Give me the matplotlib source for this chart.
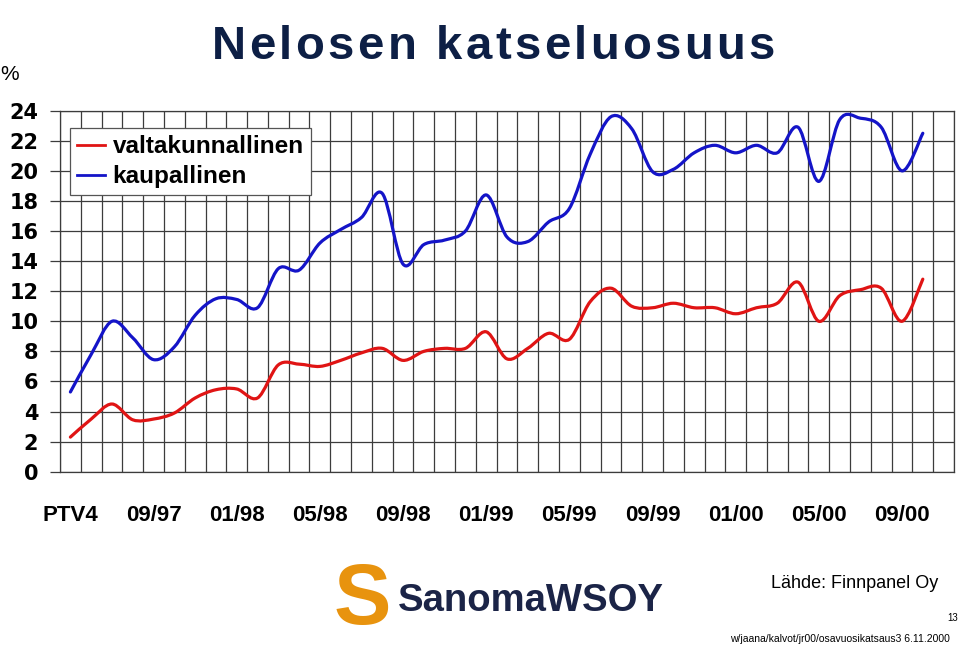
import numpy as np
import matplotlib
matplotlib.use('Agg')
from matplotlib import pyplot as pl
from matplotlib.path import Path
from matplotlib.patches import PathPatch
from matplotlib.lines import Line2D

# Monthly viewing share (%), 05/97 (PTV4) .. 10/00
valtakunnallinen = [2.3, 3.5, 4.5, 3.45, 3.5, 3.9, 4.9, 5.45, 5.5, 4.9,
                    7.1, 7.15, 7.0, 7.4, 7.9, 8.2, 7.4, 8.0, 8.2, 8.2,
                    9.3, 7.5, 8.2, 9.2, 8.8, 11.3, 12.2, 11.0, 10.9, 11.2,
                    10.9, 10.9, 10.5, 10.9, 11.2, 12.6, 10.0, 11.7, 12.1, 12.2,
                    10.0, 12.8]
kaupallinen = [5.3, 7.8, 10.0, 8.9, 7.45, 8.3, 10.4, 11.5, 11.45, 10.9,
               13.5, 13.4, 15.2, 16.1, 16.9, 18.5, 13.8, 15.1, 15.4, 16.0,
               18.4, 15.6, 15.3, 16.6, 17.5, 21.1, 23.6, 22.8, 19.95, 20.1,
               21.2, 21.7, 21.2, 21.7, 21.2, 22.9, 19.3, 23.4, 23.5, 22.9,
               20.0, 22.5]
tick_labels = ['PTV4', '09/97', '01/98', '05/98', '09/98', '01/99',
               '05/99', '09/99', '01/00', '05/00', '09/00']
series_names = ['valtakunnallinen', 'kaupallinen']
series_colors = ['#e01414', '#1414c8']
title = 'Nelosen katseluosuus'

navy = '#0d1f45'
grid_col = '#3c3c3c'


def smooth_path(x, y):
    # Excel style smoothed line: cubic bezier segments (Catmull-Rom)
    x = np.asarray(x, float)
    y = np.asarray(y, float)
    px = np.concatenate([[x[0]], x, [x[-1]]])
    py = np.concatenate([[y[0]], y, [y[-1]]])
    verts = [(x[0], y[0])]
    codes = [Path.MOVETO]
    for i in range(len(x) - 1):
        j = i + 1
        c1 = (px[j] + (px[j+1] - px[j-1])/6, py[j] + (py[j+1] - py[j-1])/6)
        c2 = (px[j+1] - (px[j+2] - px[j])/6, py[j+1] - (py[j+2] - py[j])/6)
        verts += [c1, c2, (x[j], y[j])]
        codes += [Path.CURVE4]*3
    return Path(verts, codes)


fig = pl.figure(figsize=(9.6, 6.48), dpi=100)
W, H = 960.0, 648.0
ax = fig.add_axes([60/W, 176.3/H, 894/W, 361/H])

n = len(kaupallinen)
x = np.arange(n)
ax.set_xlim(-0.5, n + 0.5)
ax.set_ylim(0, 24)

# grid: category boundaries and every 2 %
for b in np.arange(-0.5, n + 1.0, 1.0):
    ax.axvline(b, color=grid_col, lw=0.9, zorder=1)
for v in range(0, 25, 2):
    ax.axhline(v, color=grid_col, lw=0.9, zorder=1)

for vals, col in zip([valtakunnallinen, kaupallinen], series_colors):
    ax.add_patch(PathPatch(smooth_path(x, vals), fill=False, edgecolor=col,
                           lw=2.3, zorder=3, capstyle='round',
                           joinstyle='round'))

for s in ax.spines.values():
    s.set_color(grid_col)
    s.set_linewidth(0.9)

ax.set_yticks(range(0, 25, 2))
ax.set_yticklabels([str(v) for v in range(0, 25, 2)],
                   fontfamily='DejaVu Sans', fontweight='bold', fontsize=15)
ax.tick_params(axis='y', direction='out', length=7.2, width=0.9,
               color=grid_col, pad=8.5)

ax.set_xticks(np.arange(0, n, 4))
ax.set_xticklabels(tick_labels, fontfamily='Liberation Sans',
                   fontweight='bold', fontsize=16)
ax.tick_params(axis='x', length=0, pad=24)

handles = [Line2D([], [], color=c, lw=2.0) for c in series_colors]
leg = ax.legend(handles, series_names, loc='upper left',
                bbox_to_anchor=(10/894, (471.7-128)/361), borderaxespad=0,
                prop={'family': 'Liberation Sans', 'weight': 'bold',
                      'size': 17.5},
                frameon=True, fancybox=False, edgecolor='#555555',
                framealpha=1, borderpad=0.3, handlelength=1.15,
                handletextpad=0.3, labelspacing=0.28)
leg.get_frame().set_linewidth(0.9)
leg.set_zorder(5)

# title with letter spacing, drawn char by char
renderer = fig.canvas.get_renderer()
tkw = dict(fontsize=34, fontweight='bold', color=navy,
           family='Liberation Sans')


def text_w(s):
    t = fig.text(0, 0, s, **tkw)
    w = t.get_window_extent(renderer).width
    t.remove()
    return w


full_w = text_w(title)
target_w = 775 - 212
gap = (target_w - full_w) / (len(title) - 1)
x0 = (212 + 775) / 2 - target_w / 2
for i, ch in enumerate(title):
    if ch == ' ':
        continue
    left = text_w(title[:i+1]) - text_w(ch)
    fig.text((x0 + left + gap*i)/W, 1 - 59/H, ch, ha='left',
             va='baseline', **tkw)

fig.text(0.0, 1 - 75/H, '%', ha='left', va='center', fontsize=15,
         family='Liberation Sans')

# logo
fig.text(362/W, 1 - 602/H, 'S', ha='center', va='center', fontsize=62,
         fontweight='bold', color='#e8930e', family='Liberation Sans')
fig.text(398/W, 1 - 601/H, 'SanomaWSOY', ha='left', va='center',
         fontsize=27.5, fontweight='bold', color='#1b2447',
         family='Liberation Sans')

fig.text(938/W, 1 - 583/H, 'Lähde: Finnpanel Oy', ha='right', va='center',
         fontsize=13, family='Liberation Sans')
fig.text(958/W, 1 - 618/H, '13', ha='right', va='center', fontsize=7,
         family='Liberation Sans')
fig.text(950/W, 1 - 639/H, 'w/jaana/kalvot/jr00/osavuosikatsaus3 6.11.2000',
         ha='right', va='center', fontsize=7.5, family='Liberation Sans')

pl.savefig('out.png', dpi=100)
pl.close('all')
